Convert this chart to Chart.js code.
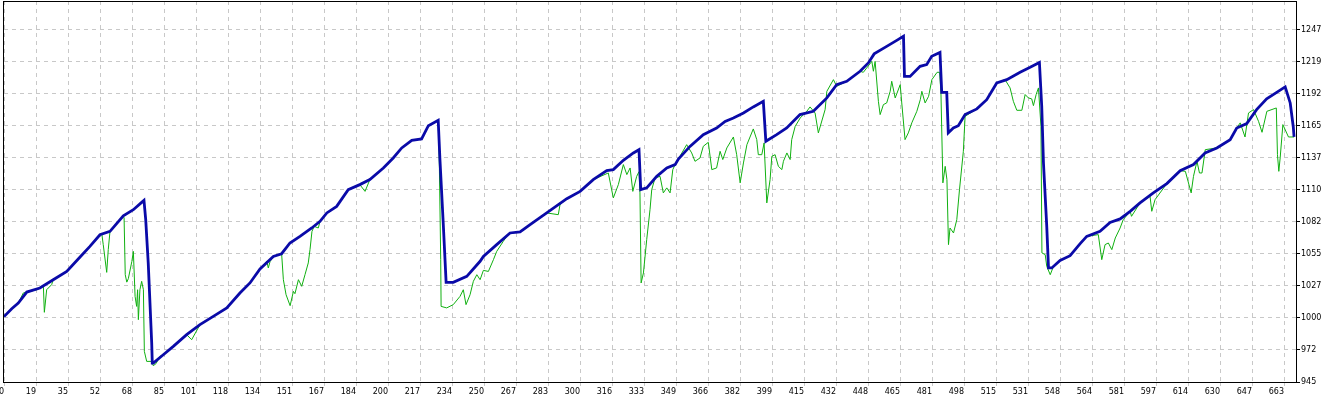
<!DOCTYPE html>
<html>
<head>
<meta charset="utf-8">
<script src="https://cdn.jsdelivr.net/npm/chart.js@4/dist/chart.umd.min.js"></script>
<style>
   html, body { margin: 0; padding: 0; background: #fff; }
   #wrap { width: 1328px; height: 399px; }
</style>
</head>
<body>
<div id="wrap"><canvas id="chart" width="1328" height="399"></canvas></div>
<script>
// Ось X: номера сделок на подписях
const xTickLabels = ['0', '19', '35', '52', '68', '85', '101', '118', '134', '151', '167', '184', '200', '217',
   '234', '250', '267', '283', '300', '316', '333', '349', '366', '382', '399', '415', '432', '448', '465',
   '481', '498', '515', '531', '548', '564', '581', '597', '614', '630', '647', '663']
const xStep = 16.575
const xMax = 669.2

// Ось Y: подписи справа
const yTickLabels = ['945', '972', '1000', '1027', '1055', '1082', '1110', '1137', '1165', '1192', '1219', '1247']
const yMin = 945.3
const yStep = 27.47
const yMax = 1272.3

// Баланс: [сделка, значение]
const balance = [
   [0, 1001.4], [4.0, 1008.2], [7.4, 1013.1], [11.8, 1022.5], [18.6, 1026.0], [25.5, 1033.1], [32.5, 1040.2],
   [39.4, 1052.6], [44.5, 1061.7], [49.7, 1071.7], [54.9, 1074.6], [61.8, 1088.0], [67.0, 1093.2], [71.3, 1099.5],
   [72.5, 1101.2], [73.4, 1084.6], [74.7, 1047.7], [76.5, 979.0], [76.8, 961.6], [77.3, 961.6], [82.5, 968.7],
   [87.7, 975.9], [94.6, 985.9], [101.5, 994.5], [108.4, 1001.6], [115.4, 1008.8], [122.2, 1021.7], [127.4, 1030.3],
   [132.6, 1042.3], [139.5, 1053.1], [143.8, 1055.4], [148.1, 1064.6], [153.3, 1070.3], [159.4, 1077.5],
   [163.7, 1083.2], [167.2, 1090.4], [172.3, 1096.0], [178.3, 1110.4], [184.3, 1114.7], [189.5, 1119.0],
   [196.5, 1129.0], [201.6, 1137.6], [206.0, 1146.2], [211.2, 1152.7], [216.3, 1153.9], [219.8, 1165.3],
   [224.9, 1169.9], [225.8, 1136.2], [227.5, 1081.8], [229.0, 1030.8], [232.7, 1030.8], [239.7, 1036.0],
   [246.6, 1048.9], [248.3, 1053.1], [255.2, 1063.2], [262.1, 1073.2], [267.3, 1074.1], [272.5, 1080.4],
   [281.1, 1090.4], [291.5, 1102.6], [298.4, 1108.9], [305.2, 1119.0], [312.2, 1126.7], [315.6, 1127.6],
   [320.8, 1135.6], [326.0, 1141.9], [328.9, 1144.7], [329.8, 1110.4], [332.9, 1111.9], [338.1, 1121.8],
   [343.3, 1129.0], [347.6, 1131.9], [349.3, 1136.7], [355.3, 1147.5], [362.2, 1157.6], [369.1, 1163.3],
   [373.5, 1169.0], [377.8, 1171.9], [383.0, 1176.2], [388.1, 1181.4], [393.3, 1186.2], [394.6, 1151.9],
   [400.2, 1157.6], [405.4, 1163.3], [412.3, 1174.8], [419.2, 1177.6], [426.2, 1189.1], [431.3, 1200.5],
   [436.5, 1203.4], [443.4, 1212.0], [447.7, 1219.1], [450.7, 1226.9], [457.2, 1233.4], [462.4, 1238.5],
   [465.9, 1242.0], [466.4, 1207.6], [469.3, 1207.6], [474.5, 1216.2], [477.9, 1217.7], [480.5, 1224.8],
   [484.8, 1228.2], [485.7, 1193.9], [488.3, 1193.9], [489.1, 1159.1], [491.7, 1163.3], [494.3, 1165.3],
   [497.8, 1174.8], [503.9, 1179.7], [509.0, 1187.6], [514.2, 1202.0], [519.4, 1204.8], [526.3, 1211.1],
   [531.5, 1215.4], [536.3, 1219.6], [537.5, 1181.9], [538.4, 1133.3], [540.1, 1078.9], [541.0, 1043.2],
   [542.7, 1043.2], [547.0, 1049.7], [552.2, 1053.7], [557.4, 1064.1], [560.8, 1070.3], [567.7, 1074.6],
   [572.9, 1082.3], [578.1, 1085.3], [583.3, 1091.8], [588.4, 1099.0], [595.3, 1107.6], [602.3, 1115.6],
   [609.2, 1126.7], [616.1, 1131.9], [622.1, 1141.9], [628.2, 1146.2], [635.1, 1153.3], [638.5, 1163.3],
   [643.7, 1167.1], [648.8, 1179.1], [654.0, 1188.3], [659.2, 1193.9], [663.6, 1198.6], [666.2, 1184.8],
   [667.8, 1164.2], [668.2, 1155.6]
]

// Средства (equity): [сделка, значение]
const equity = [
   [0, 1001.4], [4.0, 1008.2], [7.4, 1013.1], [10.0, 1021.7], [16.9, 1024.5], [18.6, 1026.0], [20.4, 1027.4],
   [20.9, 1005.1], [22.1, 1024.5], [24.7, 1028.9], [25.5, 1033.1], [32.5, 1040.2], [39.4, 1052.6], [44.5, 1061.7],
   [49.7, 1071.7], [50.6, 1073.2], [51.4, 1063.2], [53.2, 1039.4], [54.0, 1058.9], [54.9, 1074.6], [61.8, 1088.0],
   [62.2, 1086.1], [62.8, 1037.4], [63.6, 1031.0], [64.4, 1034.0], [66.2, 1048.6], [67.0, 1057.4], [67.9, 1018.8],
   [68.7, 1010.2], [69.2, 1024.5], [69.6, 998.8], [70.4, 1024.5], [71.3, 1031.7], [72.2, 1024.5], [72.7, 971.6],
   [73.9, 963.0], [76.5, 963.0], [77.3, 959.3], [78.7, 961.0], [80.8, 967.3], [82.5, 968.7], [87.7, 975.9],
   [94.6, 985.9], [97.2, 981.6], [101.5, 994.5], [108.4, 1001.6], [115.4, 1008.8], [122.2, 1021.7], [127.4, 1030.3],
   [132.6, 1042.3], [136.1, 1048.9], [136.9, 1043.2], [137.8, 1048.6], [139.5, 1053.1], [143.8, 1055.4],
   [144.7, 1033.1], [146.1, 1020.2], [148.2, 1010.8], [149.9, 1023.1], [150.7, 1021.1], [152.5, 1033.1],
   [154.2, 1027.4], [155.9, 1037.4], [157.6, 1047.5], [158.5, 1058.9], [159.5, 1074.4], [160.6, 1078.9],
   [162.8, 1077.5], [163.7, 1083.2], [167.2, 1090.4], [172.3, 1096.0], [178.3, 1110.4], [184.3, 1114.7],
   [187.0, 1108.9], [189.5, 1119.0], [196.5, 1129.0], [201.6, 1137.6], [206.0, 1146.2], [211.2, 1152.7],
   [216.3, 1153.9], [219.8, 1165.3], [224.9, 1169.9], [225.5, 1130.4], [226.2, 1050.3], [226.4, 1010.2],
   [229.3, 1008.9], [232.7, 1011.7], [236.2, 1018.8], [237.9, 1024.5], [239.3, 1011.7], [241.4, 1020.2],
   [243.1, 1031.7], [244.9, 1037.4], [246.6, 1033.1], [248.3, 1041.1], [250.9, 1040.2], [253.5, 1050.3],
   [255.2, 1057.4], [258.6, 1066.0], [260.4, 1070.3], [262.1, 1073.2], [267.3, 1074.1], [272.5, 1080.4],
   [281.1, 1090.4], [287.1, 1088.9], [288.0, 1097.5], [291.5, 1102.6], [298.4, 1108.9], [305.2, 1119.0],
   [313.0, 1124.7], [315.6, 1103.3], [318.2, 1114.7], [320.8, 1131.9], [322.6, 1123.3], [324.3, 1129.0],
   [325.7, 1108.9], [327.7, 1121.8], [328.9, 1125.8], [329.4, 1107.6], [330.0, 1030.3], [331.2, 1038.9],
   [332.9, 1067.5], [334.6, 1093.2], [335.5, 1110.4], [337.2, 1120.4], [339.8, 1121.8], [341.5, 1107.6],
   [343.3, 1111.9], [345.0, 1107.6], [346.4, 1127.6], [347.6, 1131.9], [349.3, 1136.7], [353.6, 1149.0],
   [356.2, 1141.9], [357.9, 1134.7], [360.5, 1137.6], [362.2, 1147.6], [364.8, 1151.0], [366.6, 1127.6],
   [369.1, 1129.0], [370.9, 1143.3], [372.3, 1136.2], [374.4, 1146.2], [377.8, 1155.6], [379.5, 1140.4],
   [381.3, 1116.2], [383.0, 1133.3], [384.8, 1149.0], [388.1, 1162.5], [389.9, 1153.3], [390.7, 1140.4],
   [392.5, 1140.4], [393.7, 1150.5], [395.1, 1099.0], [396.8, 1119.0], [397.7, 1139.0], [399.4, 1140.4],
   [401.1, 1130.4], [402.9, 1127.6], [403.7, 1134.7], [405.5, 1141.9], [407.2, 1136.2], [408.0, 1153.3],
   [409.8, 1164.7], [412.4, 1171.9], [415.8, 1177.6], [417.5, 1181.4], [420.1, 1176.2], [421.8, 1159.1],
   [425.3, 1179.1], [426.2, 1194.8], [429.6, 1204.8], [431.3, 1199.1], [436.5, 1203.4], [443.4, 1212.0],
   [445.1, 1211.1], [449.5, 1220.5], [450.3, 1212.0], [451.2, 1220.5], [452.9, 1186.2], [453.8, 1174.8],
   [455.5, 1183.4], [457.2, 1184.8], [459.0, 1194.8], [459.8, 1203.4], [461.6, 1189.1], [464.2, 1200.5],
   [465.0, 1184.8], [466.7, 1153.3], [468.4, 1159.1], [470.2, 1167.7], [472.8, 1177.6], [474.6, 1187.6],
   [475.4, 1194.8], [477.1, 1184.8], [478.9, 1190.5], [480.6, 1204.8], [483.3, 1211.1], [484.6, 1211.1],
   [485.3, 1193.4], [486.3, 1116.2], [487.5, 1130.4], [488.4, 1119.0], [489.2, 1063.2], [490.0, 1077.5],
   [491.8, 1073.2], [493.5, 1084.6], [494.9, 1110.4], [496.9, 1143.3], [497.8, 1173.3], [503.9, 1179.7],
   [509.0, 1187.6], [514.2, 1202.0], [518.5, 1204.8], [521.1, 1197.7], [522.8, 1186.2], [524.6, 1178.5],
   [527.2, 1178.5], [528.9, 1192.0], [530.6, 1189.1], [532.3, 1188.3], [533.2, 1182.5], [534.6, 1192.0],
   [535.8, 1197.7], [537.1, 1164.7], [537.6, 1056.1], [539.3, 1054.6], [540.1, 1044.6], [541.9, 1037.4],
   [543.6, 1044.6], [547.0, 1049.7], [552.2, 1053.7], [557.4, 1064.1], [560.8, 1070.3], [566.8, 1071.8],
   [568.6, 1050.3], [570.3, 1063.2], [572.0, 1064.6], [573.8, 1058.9], [575.6, 1068.9], [578.1, 1077.5],
   [579.7, 1084.6], [583.3, 1091.8], [584.0, 1087.5], [588.4, 1099.0], [593.6, 1104.7], [594.5, 1091.8],
   [596.2, 1101.8], [602.3, 1115.6], [609.2, 1126.7], [611.9, 1126.1], [614.9, 1107.6], [616.1, 1121.8],
   [617.9, 1134.7], [619.2, 1124.7], [620.5, 1124.7], [622.2, 1144.7], [628.2, 1146.2], [635.1, 1153.3],
   [638.5, 1163.3], [640.3, 1167.7], [642.8, 1155.6], [644.6, 1176.2], [647.2, 1179.1], [649.8, 1169.0],
   [651.6, 1159.6], [654.1, 1177.6], [659.0, 1180.5], [659.6, 1140.4], [660.3, 1126.1], [661.0, 1137.6],
   [662.4, 1166.2], [665.3, 1155.6], [668.2, 1155.6]
]

const gridColor = '#c8c8c8'
const labelFont = { family: 'DejaVu Sans', size: 8 }

// рамка вокруг области графика
const framePlugin = {
   id: 'frame',
   afterDraw(chart) {
      const { ctx, chartArea: a } = chart
      ctx.save()
      ctx.strokeStyle = '#000'
      ctx.lineWidth = 1
      ctx.strokeRect(a.left - 0.5, a.top + 0.5, a.right - a.left + 1, a.bottom - a.top)
      ctx.restore()
   }
}

new Chart(document.getElementById('chart'), {
   type: 'line',
   data: {
      datasets: [
         {
            label: 'Balance',
            data: balance.map(p => ({ x: p[0], y: p[1] })),
            borderColor: '#0a0aa8',
            borderWidth: 2.8,
            pointRadius: 0,
            tension: 0,
            fill: false
         },
         {
            label: 'Equity',
            data: equity.map(p => ({ x: p[0], y: p[1] })),
            borderColor: '#10b010',
            borderWidth: 1,
            pointRadius: 0,
            tension: 0,
            fill: false
         }
      ]
   },
   options: {
      responsive: false,
      animation: false,
      layout: { padding: { left: 4, top: 1, right: 0, bottom: 0 } },
      plugins: {
         legend: { display: false },
         tooltip: { enabled: false }
      },
      scales: {
         x: {
            type: 'linear',
            min: 0,
            max: xMax,
            afterBuildTicks: (axis) => {
               axis.ticks = xTickLabels.map((_, i) => ({ value: i * xStep }))
            },
            afterFit: (axis) => {
               axis.height = 17
               axis.paddingLeft = 0
               axis.paddingRight = 0
            },
            grid: {
               color: gridColor,
               tickLength: 4,
               tickBorderDash: [],
               tickColor: gridColor
            },
            border: { display: false, dash: [4, 4] },
            ticks: {
               autoSkip: false,
               maxRotation: 0,
               align: 'end',
               padding: 1,
               color: '#000',
               font: labelFont,
               callback: (value, index) => xTickLabels[index]
            }
         },
         y: {
            type: 'linear',
            position: 'right',
            min: yMin,
            max: yMax,
            afterBuildTicks: (axis) => {
               axis.ticks = yTickLabels.map((_, i) => ({ value: yMin + i * yStep }))
            },
            afterFit: (axis) => {
               axis.width = 32
               axis.paddingTop = 0
               axis.paddingBottom = 0
            },
            grid: {
               color: gridColor,
               tickLength: 4,
               tickBorderDash: [],
               tickColor: '#000'
            },
            border: { display: false, dash: [4, 4] },
            ticks: {
               padding: 1,
               color: '#000',
               font: labelFont,
               callback: (value, index) => yTickLabels[index]
            }
         }
      }
   },
   plugins: [framePlugin]
})
</script>
</body>
</html>
